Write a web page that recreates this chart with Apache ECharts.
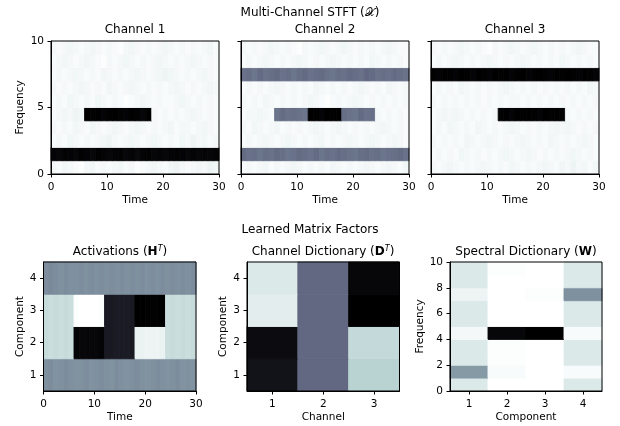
<!DOCTYPE html>
<html><head><meta charset="utf-8">
<script src="https://cdn.jsdelivr.net/npm/echarts@6/dist/echarts.min.js"></script>
<style>html,body{margin:0;padding:0;background:#fff}#c{width:620px;height:426px}</style>
</head><body><div id="c"></div><script>
// ---------------- DATA (values in percent of the colour scale) ----------------
// STFT panels: rows = frequency bins 0..9 (bottom to top), columns = time 0..29
const ch1 = [
 [3,2,4,3,2,1,3,4,2,3,2,3,4,2,3,1,2,3,4,3,2,4,5,3,2,3,4,3,5,4],
 [98,97,99,98,97,99,98,97,99,98,97,98,99,97,98,96,98,99,97,98,97,98,99,98,97,98,97,98,97,98],
 [2,3,2,4,3,2,3,2,3,4,5,3,2,3,4,3,2,3,4,3,2,3,2,4,3,5,3,4,2,3],
 [3,2,3,2,4,3,2,4,3,2,3,4,3,2,3,4,3,2,3,2,3,4,2,3,3,2,3,4,3,2],
 [2,3,4,3,5,4,100,99,100,98,99,100,99,98,100,99,97,100,3,2,3,2,3,2,3,4,3,2,3,2],
 [2,3,2,4,3,2,3,2,4,3,2,3,2,1,2,3,4,3,2,3,2,2,3,4,3,2,3,2,3,2],
 [3,2,3,2,3,4,3,2,3,2,4,3,2,3,4,3,2,3,2,3,2,3,4,3,2,3,2,3,4,3],
 [2,3,2,3,4,3,2,3,2,4,3,2,3,2,3,4,3,2,3,4,5,4,3,2,3,2,3,4,3,2],
 [2,3,4,3,2,3,4,3,2,1,3,2,3,4,3,2,3,2,3,4,3,2,3,2,3,4,3,2,3,2],
 [3,2,3,4,3,2,3,4,3,2,3,2,1,3,4,3,2,3,2,3,4,3,2,3,2,3,2,3,4,2]
];
const ch2 = [
 [2,3,2,3,4,2,3,2,3,4,3,2,3,2,3,2,4,3,2,3,2,3,4,3,2,3,4,3,2,4],
 [55,53,54,52,54,53,55,54,52,53,55,54,53,55,52,54,53,55,54,53,52,54,55,53,54,52,53,54,55,53],
 [2,3,2,3,4,3,2,3,4,3,2,3,2,3,4,2,3,2,3,4,3,2,3,4,3,2,3,4,3,2],
 [3,2,4,3,2,3,4,2,3,2,3,2,3,4,3,2,3,4,3,2,3,2,3,2,3,4,3,2,3,2],
 [2,3,3,4,3,2,52,55,53,54,53,52,100,99,98,100,99,100,54,53,52,55,53,54,3,2,3,2,3,2],
 [3,2,3,2,4,3,2,3,2,3,2,3,4,3,2,1,2,3,2,3,4,3,2,3,2,3,2,3,2,3],
 [2,3,2,3,2,3,4,3,2,3,2,3,2,4,3,2,3,2,3,2,3,4,3,2,3,2,4,3,2,3],
 [53,54,52,55,53,54,55,53,54,52,54,55,53,54,55,53,52,54,53,55,54,53,56,55,53,54,53,55,54,53],
 [2,3,2,3,4,3,2,3,2,3,4,3,2,3,2,3,4,3,2,3,2,3,2,4,3,2,3,2,3,2],
 [3,2,3,2,3,4,3,2,3,2,1,3,2,3,4,3,2,3,4,3,2,3,2,3,2,3,4,3,2,2]
];
const ch3 = [
 [3,2,3,4,3,2,3,2,3,4,3,2,3,2,4,3,2,3,2,3,4,3,2,4,3,5,3,4,2,4],
 [2,3,2,3,2,4,3,2,3,2,3,2,3,4,3,2,3,4,3,2,3,2,3,2,3,4,3,2,3,2],
 [3,2,3,2,3,2,4,3,2,3,4,3,2,3,2,3,4,3,2,3,2,4,3,2,3,2,3,4,3,2],
 [2,3,2,4,3,2,3,2,4,3,2,3,2,3,4,3,2,3,2,3,2,3,4,3,4,3,2,3,2,3],
 [2,3,4,3,4,3,2,3,2,3,2,3,99,100,98,100,99,100,99,98,100,99,100,99,3,2,3,2,3,2],
 [3,2,3,2,3,2,3,2,3,2,3,2,3,2,3,3,2,3,2,3,2,3,2,3,2,3,2,3,2,3],
 [2,3,2,3,2,4,3,2,3,2,3,2,3,4,3,2,3,2,3,2,3,2,3,2,3,2,3,2,4,3],
 [99,98,100,99,98,100,99,98,100,99,98,100,99,100,98,99,100,98,99,100,99,98,100,99,100,99,98,100,99,98],
 [2,3,2,3,4,3,2,3,2,3,4,3,2,3,2,3,4,3,2,3,2,3,2,4,3,2,3,2,3,2],
 [3,2,3,2,3,4,3,2,3,2,1,3,2,3,4,3,2,3,4,3,2,3,2,3,2,3,4,3,2,2]
];
// Activations H^T: rows = components 1..4, columns = time 0..29
const activations = [
 [43,44,42,43,44,43,42,43,44,42,43,44,43,42,44,43,42,43,44,43,42,43,44,43,42,43,44,42,43,42],
 [16,15,16,15,16,15,98,97,97,97,97,98,89,89,88,88,88,89,6,6,5,5,5,6,15,16,15,16,15,16],
 [16,15,16,15,16,15,1,0,0,0,0,1,89,89,88,88,88,89,100,100,99,99,99,100,15,16,15,16,15,16],
 [44,45,44,43,44,43,43,44,43,44,43,44,43,44,43,44,43,44,43,44,43,44,43,44,43,44,43,44,43,44]
];
const timeTicks = [0, 10, 20, 30];
// Channel dictionary D^T: rows = components 1..4, columns = channels 1..3
const channelDict = [
 [92, 56, 20],
 [95, 56, 17],
 [8, 56, 100],
 [10, 56, 97]
];
const channels = [1, 2, 3];
// Spectral dictionary W: rows = frequency 0..9, columns = components 1..4
const spectralDict = [
 [10, 0, 0, 10],
 [40, 2, 0, 2],
 [10, 1, 0, 10],
 [10, 1, 0, 10],
 [3, 97, 100, 2],
 [10, 0, 0, 10],
 [10, 0, 0, 10],
 [5, 0, 1, 43],
 [10, 0, 0, 10],
 [10, 1, 0, 10]
];
const components = [1, 2, 3, 4];

// ---------------- STYLE ----------------
const FONT = 'DejaVu Sans';
function interp(stops, t) {
  for (let i = 1; i < stops.length; i++) {
    if (t <= stops[i][0]) {
      const a = stops[i-1], b = stops[i];
      return a[1] + (t - a[0]) / (b[0] - a[0]) * (b[1] - a[1]);
    }
  }
  return stops[stops.length-1][1];
}
const R = [[0,0],[0.746032,0.652778],[1,1]];
const G = [[0,0],[0.365079,0.319444],[0.746032,0.777778],[1,1]];
const B = [[0,0],[0.365079,0.444444],[1,1]];
function boneR(v) {
  const t = 1 - Math.max(0, Math.min(1, v));
  const c = x => Math.round(255 * interp(x, t));
  return 'rgb(' + c(R) + ',' + c(G) + ',' + c(B) + ')';
}

// ---------------- BUILD ----------------
function stftCells(m) {
  const out = [];
  m.forEach((row, f) => row.forEach((v, t) => out.push([t, f, t + 1, f + 1, v / 100])));
  return out;
}
function compTimeCells(m) {
  const out = [];
  m.forEach((row, k) => row.forEach((v, t) => out.push([t, components[k] - 0.5, t + 1, components[k] + 0.5, v / 100])));
  return out;
}
function compChanCells(m) {
  const out = [];
  m.forEach((row, k) => row.forEach((v, c) => out.push([channels[c] - 0.5, components[k] - 0.5, channels[c] + 0.5, components[k] + 0.5, v / 100])));
  return out;
}
function freqCompCells(m) {
  const out = [];
  m.forEach((row, f) => row.forEach((v, k) => out.push([components[k] - 0.5, f, components[k] + 0.5, f + 1, v / 100])));
  return out;
}
function renderCell(params, api) {
  const p0 = api.coord([api.value(0), api.value(3)]);
  const p1 = api.coord([api.value(2), api.value(1)]);
  const col = boneR(api.value(4));
  return { type: 'rect', shape: { x: p0[0], y: p0[1], width: p1[0] - p0[0], height: p1[1] - p0[1] },
           style: { fill: col, stroke: col, lineWidth: 0.9 } };
}
function cellSeries(i, data) {
  return { type: 'custom', xAxisIndex: i, yAxisIndex: i, renderItem: renderCell, data: data,
           encode: { x: [0, 2], y: [1, 3] }, silent: true, animation: false, z: 2 };
}

const grids = [
  { left: 51, top: 41, width: 168, height: 133 },
  { left: 241, top: 41, width: 168, height: 133 },
  { left: 431, top: 41, width: 168, height: 133 },
  { left: 43.5, top: 262, width: 152.5, height: 129 },
  { left: 247, top: 262, width: 152.5, height: 129 },
  { left: 450, top: 262, width: 152, height: 129 }
].map(g => Object.assign({ show: true, borderColor: '#000', borderWidth: 1, backgroundColor: 'transparent', z: 5 }, g));

const lbl = { color: '#000', fontFamily: FONT, fontSize: 10.5 };
function axis(extra, margin) {
  const base = {
    type: 'value', z: 6,
    axisLine: { show: true, onZero: false, lineStyle: { color: '#000', width: 1 } },
    axisTick: { show: true, inside: false, length: 3.5, lineStyle: { color: '#000', width: 1 } },
    axisLabel: Object.assign({ show: true, margin: margin }, lbl),
    splitLine: { show: false },
    nameLocation: 'middle',
    nameTextStyle: Object.assign({}, lbl)
  };
  const o = Object.assign(base, extra);
  if (extra.customTicks) {
    o.axisTick = Object.assign({}, base.axisTick, { customValues: extra.customTicks });
    o.axisLabel = Object.assign({}, base.axisLabel, { customValues: extra.customTicks });
    delete o.customTicks;
  }
  if (extra.hideLabels) { o.axisLabel = Object.assign({}, o.axisLabel, { show: false }); delete o.hideLabels; }
  return o;
}

const xAxes = [
  axis({ gridIndex: 0, min: timeTicks[0], max: timeTicks[3], interval: 10, name: 'Time', nameGap: 21 }, 8),
  axis({ gridIndex: 1, min: timeTicks[0], max: timeTicks[3], interval: 10, name: 'Time', nameGap: 21 }, 8),
  axis({ gridIndex: 2, min: timeTicks[0], max: timeTicks[3], interval: 10, name: 'Time', nameGap: 21 }, 8),
  axis({ gridIndex: 3, min: timeTicks[0], max: timeTicks[3], interval: 10, name: 'Time', nameGap: 21 }, 8),
  axis({ gridIndex: 4, min: 0.5, max: 3.5, customTicks: channels, name: 'Channel', nameGap: 21 }, 8),
  axis({ gridIndex: 5, min: 0.5, max: 4.5, customTicks: components, name: 'Component', nameGap: 21 }, 8)
];
const yAxes = [
  axis({ gridIndex: 0, min: 0, max: 10, interval: 5, name: 'Frequency', nameGap: 25 }, 7),
  axis({ gridIndex: 1, min: 0, max: 10, interval: 5, hideLabels: true }, 7),
  axis({ gridIndex: 2, min: 0, max: 10, interval: 5, hideLabels: true }, 7),
  axis({ gridIndex: 3, min: 0.5, max: 4.5, customTicks: components, name: 'Component', nameGap: 18 }, 7),
  axis({ gridIndex: 4, min: 0.5, max: 4.5, customTicks: components, name: 'Component', nameGap: 18 }, 7),
  axis({ gridIndex: 5, min: 0, max: 10, interval: 2, name: 'Frequency', nameGap: 24 }, 7)
];

function txt(x, y, text, rich) {
  const st = { text: text, font: '12px "DejaVu Sans"', fill: '#000', textAlign: 'center', textVerticalAlign: 'middle' };
  if (rich) st.rich = rich;
  return { type: 'text', x: x, y: y, style: st, z: 20 };
}
const rich = {
  b: { fontWeight: 'bold', fontSize: 12, fontFamily: FONT, fill: '#000' },
  s: { fontStyle: 'italic', fontSize: 8, fontFamily: FONT, fill: '#000', verticalAlign: 'top', padding: [0, 0, 6, 0] }
};

const chart = echarts.init(document.getElementById('c'), null, { renderer: 'canvas' });
chart.setOption({
  animation: false,
  backgroundColor: '#fff',
  grid: grids,
  xAxis: xAxes,
  yAxis: yAxes,
  series: [
    cellSeries(0, stftCells(ch1)),
    cellSeries(1, stftCells(ch2)),
    cellSeries(2, stftCells(ch3)),
    cellSeries(3, compTimeCells(activations)),
    cellSeries(4, compChanCells(channelDict)),
    cellSeries(5, freqCompCells(spectralDict))
  ],
  graphic: [
    txt(310, 13, 'Multi-Channel STFT (𝒳)'),
    txt(135, 30, 'Channel 1'),
    txt(325, 30, 'Channel 2'),
    txt(515, 30, 'Channel 3'),
    txt(310, 230, 'Learned Matrix Factors'),
    txt(120, 252, 'Activations ({b|H}{s|T})', rich),
    txt(323, 252, 'Channel Dictionary ({b|D}{s|T})', rich),
    txt(526, 252, 'Spectral Dictionary ({b|W})', rich)
  ]
});
</script></body></html>
